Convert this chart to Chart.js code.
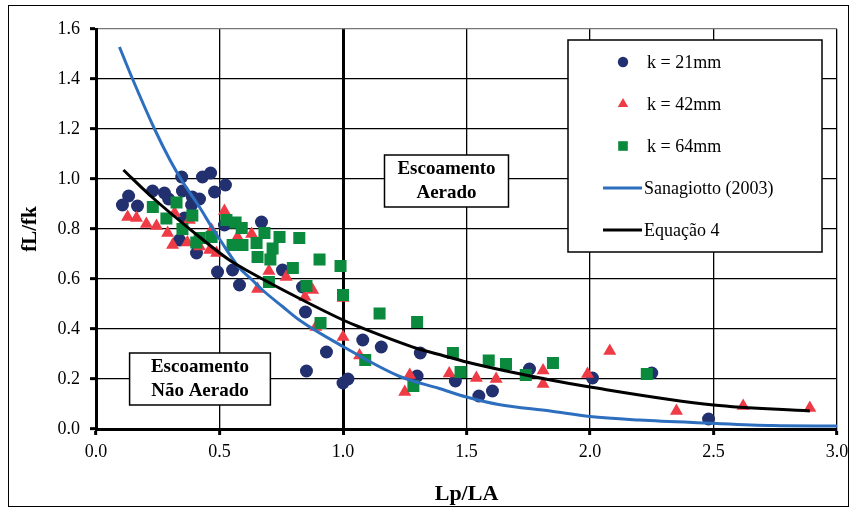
<!DOCTYPE html>
<html>
<head>
<meta charset="utf-8">
<script src="https://cdn.jsdelivr.net/npm/chart.js@4.4.0/dist/chart.umd.min.js"></script>
<style>
  html, body { margin: 0; padding: 0; background: #fff; }
</style>
</head>
<body>
<canvas id="chart" width="856" height="512"></canvas>
<script>
// measured points (Lp/LA, fL/fk)
const k21 = [
  [0.107,0.896],[0.132,0.932],[0.168,0.892],[0.229,0.952],[0.277,0.944],[0.294,0.92],
  [0.347,1.008],[0.35,0.952],[0.39,0.928],[0.419,0.92],[0.431,1.008],[0.464,1.024],
  [0.48,0.948],[0.524,0.976],[0.387,0.896],[0.358,0.844],[0.338,0.756],[0.407,0.704],
  [0.492,0.628],[0.553,0.636],[0.581,0.576],[0.67,0.828],[0.755,0.636],[0.52,0.816],
  [0.836,0.568],[0.848,0.468],[0.933,0.308],[0.852,0.232],[1.0,0.184],[1.02,0.2],
  [1.08,0.356],[1.155,0.328],[1.313,0.304],[1.30,0.212],[1.455,0.192],[1.55,0.132],
  [1.605,0.152],[1.755,0.24],[2.01,0.204],[2.25,0.224],[2.48,0.04]
];
const k42 = [
  [0.128,0.848],[0.164,0.844],[0.204,0.82],[0.245,0.812],[0.29,0.784],[0.31,0.736],
  [0.318,0.864],[0.37,0.746],[0.378,0.836],[0.419,0.73],[0.46,0.716],[0.468,0.796],
  [0.488,0.704],[0.52,0.872],[0.573,0.768],[0.63,0.78],[0.654,0.56],[0.70,0.632],
  [0.77,0.608],[0.846,0.528],[0.877,0.556],[0.89,0.408],[1.0,0.368],[1.0,0.524],
  [1.067,0.294],[1.25,0.148],[1.27,0.216],[1.43,0.222],[1.54,0.204],[1.62,0.2],
  [1.81,0.234],[1.81,0.18],[1.99,0.22],[2.08,0.312],[2.35,0.072],[2.62,0.092],[2.89,0.084]
];
const k64 = [
  [0.23,0.888],[0.326,0.906],[0.285,0.842],[0.35,0.8],[0.39,0.854],[0.42,0.764],
  [0.468,0.768],[0.406,0.746],[0.528,0.836],[0.565,0.826],[0.59,0.804],[0.553,0.736],
  [0.593,0.736],[0.65,0.744],[0.682,0.784],[0.743,0.768],[0.823,0.764],[0.715,0.722],
  [0.654,0.688],[0.706,0.678],[0.797,0.644],[0.905,0.678],[0.99,0.652],[0.70,0.588],
  [0.852,0.572],[1.0,0.536],[0.909,0.424],[1.148,0.462],[1.30,0.428],[1.09,0.276],
  [1.285,0.172],[1.445,0.304],[1.476,0.228],[1.59,0.274],[1.66,0.26],[1.74,0.216],
  [1.85,0.264],[2.23,0.22]
];
// curves
const sanagiotto = [
  [0.095,1.528],[0.148,1.40],[0.237,1.2],[0.30,1.075],[0.35,0.99],[0.419,0.888],
  [0.47,0.805],[0.50,0.76],[0.58,0.645],[0.63,0.598],[0.674,0.556],[0.755,0.49],
  [0.823,0.436],[1.0,0.33],[1.23,0.21],[1.39,0.162],[1.5,0.128],[1.63,0.098],
  [1.84,0.072],[2.0,0.05],[2.2,0.036],[2.47,0.024],[2.74,0.014],[3.0,0.012]
];
const equacao4 = [
  [0.111,1.036],[0.217,0.936],[0.419,0.768],[0.54,0.676],[0.622,0.628],[0.824,0.522],
  [1.0,0.436],[1.067,0.408],[1.30,0.322],[1.39,0.298],[1.50,0.268],[1.84,0.196],
  [2.0,0.168],[2.5,0.096],[2.89,0.072]
];
const seriesLabels = ['k = 21mm', 'k = 42mm', 'k = 64mm', 'Sanagiotto (2003)', 'Equação 4'];
const xTitle = 'Lp/LA';
const yTitle = 'fL/fk';
const regionLabels = [['Escoamento', 'Aerado'], ['Escoamento', 'Não Aerado']];

const toXY = arr => arr.map(p => ({ x: p[0], y: p[1] }));
const SERIF = '"Liberation Serif", "Times New Roman", serif';

// white boxes with region names
const regionBoxes = {
  id: 'regionBoxes',
  afterDraw(chart) {
    const { ctx, scales: { x, y } } = chart;
    const boxes = [
      { x0: 1.168, x1: 1.67, y0: 1.096, y1: 0.888, lines: regionLabels[0] },
      { x0: 0.136, x1: 0.706, y0: 0.304, y1: 0.096, lines: regionLabels[1] }
    ];
    ctx.save();
    boxes.forEach(b => {
      const l = x.getPixelForValue(b.x0), r = x.getPixelForValue(b.x1);
      const t = y.getPixelForValue(b.y0), bt = y.getPixelForValue(b.y1);
      ctx.fillStyle = '#fff';
      ctx.fillRect(l, t, r - l, bt - t);
      ctx.strokeStyle = '#000';
      ctx.lineWidth = 1.5;
      ctx.strokeRect(l, t, r - l, bt - t);
      ctx.fillStyle = '#000';
      ctx.font = 'bold 19px ' + SERIF;
      ctx.textAlign = 'center';
      ctx.textBaseline = 'middle';
      const cx = (l + r) / 2, cy = (t + bt) / 2;
      ctx.fillText(b.lines[0], cx, cy - 12);
      ctx.fillText(b.lines[1], cx, cy + 12);
    });
    ctx.restore();
  }
};

// legend box drawn inside the plot
const legendBox = {
  id: 'legendBox',
  afterDraw(chart) {
    const ctx = chart.ctx;
    const x0 = 568, y0 = 40, w = 254, h = 212;
    ctx.save();
    ctx.fillStyle = '#fff';
    ctx.fillRect(x0, y0, w, h);
    ctx.strokeStyle = '#000';
    ctx.lineWidth = 1.5;
    ctx.strokeRect(x0, y0, w, h);
    chart.data.datasets.forEach((ds, i) => {
      const yy = y0 + 22 + i * 42;
      if (ds.showLine) {
        ctx.strokeStyle = ds.borderColor;
        ctx.lineWidth = 3;
        ctx.beginPath();
        ctx.moveTo(603, yy);
        ctx.lineTo(642, yy);
        ctx.stroke();
      } else {
        ctx.fillStyle = ds.backgroundColor;
        Chart.helpers.drawPoint(ctx, { pointStyle: ds.pointStyle, radius: ds.pointRadius * 0.8, borderWidth: 0, rotation: 0 }, 623, yy);
      }
      ctx.fillStyle = '#000';
      ctx.font = '18px ' + SERIF;
      ctx.textAlign = 'left';
      ctx.textBaseline = 'middle';
      ctx.fillText(ds.label, ds.showLine ? 644 : 647, yy + 1);
    });
    ctx.restore();
  }
};

// outer frame of the figure
const frame = {
  id: 'frame',
  afterDraw(chart) {
    const ctx = chart.ctx;
    ctx.save();
    ctx.strokeStyle = '#000';
    ctx.lineWidth = 1;
    ctx.strokeRect(8.5, 5.5, 840, 501);
    ctx.restore();
  }
};

new Chart(document.getElementById('chart'), {
  type: 'scatter',
  data: {
    datasets: [
      { label: seriesLabels[0], data: toXY(k21), pointStyle: 'circle', pointRadius: 6.5, backgroundColor: '#22306f', pointBorderWidth: 0, showLine: false, order: 5 },
      { label: seriesLabels[1], data: toXY(k42), pointStyle: 'triangle', pointRadius: 7.5, backgroundColor: '#ef3b45', pointBorderWidth: 0, showLine: false, order: 4 },
      { label: seriesLabels[2], data: toXY(k64), pointStyle: 'rect', pointRadius: 8.5, backgroundColor: '#0b8a3e', pointBorderWidth: 0, showLine: false, order: 3 },
      { label: seriesLabels[3], data: toXY(sanagiotto), showLine: true, borderColor: '#2d6fbe', borderWidth: 3, pointRadius: 0, cubicInterpolationMode: 'monotone', order: 2 },
      { label: seriesLabels[4], data: toXY(equacao4), showLine: true, borderColor: '#000', borderWidth: 3, pointRadius: 0, cubicInterpolationMode: 'monotone', order: 1 }
    ]
  },
  options: {
    responsive: false,
    animation: false,
    layout: { padding: { left: 0, right: 19, top: 29, bottom: 0 } },
    plugins: { legend: { display: false }, tooltip: { enabled: false } },
    scales: {
      x: {
        type: 'linear', min: 0, max: 3,
        afterFit: s => { s.height = 83; },
        ticks: { stepSize: 0.5, color: '#000', padding: 6, font: { family: SERIF, size: 18 }, callback: v => v.toFixed(1) },
        grid: {
          color: '#000',
          lineWidth: c => (c.tick && c.tick.value === 1 ? 3 : 1.3),
          tickLength: 6, tickWidth: 3, tickColor: '#000'
        },
        border: { display: true, color: '#000', width: 3 },
        title: { display: true, text: xTitle, color: '#000', font: { family: SERIF, size: 22, weight: 'bold' }, padding: { top: 0 } }
      },
      y: {
        type: 'linear', min: 0, max: 1.6,
        afterFit: s => { s.width = 96; },
        ticks: { stepSize: 0.2, color: '#000', padding: 10, font: { family: SERIF, size: 18 }, callback: v => v.toFixed(1) },
        grid: {
          color: c => (c.tick && Math.abs(c.tick.value - 1.6) < 1e-6 ? '#777' : '#000'),
          lineWidth: 1.3,
          tickLength: 6, tickWidth: 3, tickColor: '#000'
        },
        border: { display: true, color: '#000', width: 3 },
        title: { display: true, text: yTitle, color: '#000', font: { family: SERIF, size: 21, weight: 'bold' }, padding: { top: 18, bottom: 0 } }
      }
    }
  },
  plugins: [regionBoxes, legendBox, frame]
});
</script>
</body>
</html>
